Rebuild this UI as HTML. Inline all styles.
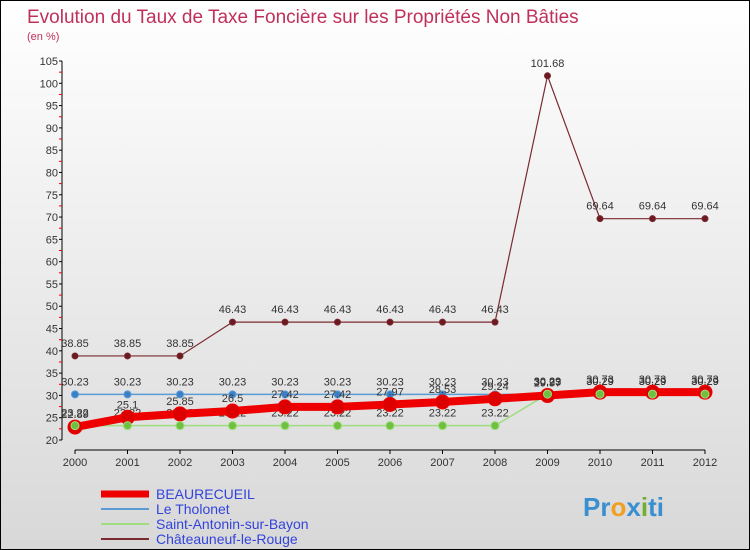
<!DOCTYPE html>
<html><head><meta charset="utf-8"><style>
body{margin:0}
#c{width:748px;height:548px;border:1px solid #000;background:linear-gradient(#fff,#d8d8d8);position:relative;font-family:"Liberation Sans",sans-serif;overflow:hidden}
</style></head><body>
<div id="c">
<svg id="s" width="748" height="548" style="position:absolute;left:0;top:0">
<text x="26" y="22" font-size="19" fill="#c0305a">Evolution du Taux de Taxe Foncière sur les Propriétés Non Bâties</text>
<text x="26" y="39" font-size="11" fill="#c0305a">(en %)</text>
<g id="axes"></g><g id="series"></g><g id="legend"></g>
<text x="582" y="515" font-size="26" font-weight="bold" fill="#3a8fd0">Pr<tspan fill="#f0a020">o</tspan>x<tspan fill="#70b030">i</tspan>ti</text>
</svg></div>
<script>
const years=[2000,2001,2002,2003,2004,2005,2006,2007,2008,2009,2010,2011,2012];
const beaurecueil=[22.89,25.1,25.85,26.5,27.42,27.42,27.97,28.53,29.24,29.97,30.73,30.73,30.73];
const tholonet=[30.23,30.23,30.23,30.23,30.23,30.23,30.23,30.23,30.23,30.23,30.29,30.29,30.29];
const antonin=[23.22,23.22,23.22,23.22,23.22,23.22,23.22,23.22,23.22,30.29,30.29,30.29,30.29];
const chateauneuf=[38.85,38.85,38.85,46.43,46.43,46.43,46.43,46.43,46.43,101.68,69.64,69.64,69.64];
const yTicks=[20,25,30,35,40,45,50,55,60,65,70,75,80,85,90,95,100,105];
const NS="http://www.w3.org/2000/svg";
const X=i=>74+i*52.5, Y=v=>439-(v-20)*(379/85);
function mk(t,a,p){const e=document.createElementNS(NS,t);for(const k in a)e.setAttribute(k,a[k]);p.appendChild(e);return e;}
const ax=document.getElementById('axes'),sg=document.getElementById('series'),lg=document.getElementById('legend');
const yl=mk('line',{x1:61,y1:Y(105),x2:61,y2:Y(20),stroke:'#000'},ax);


const xl=mk('line',{x1:74,y1:449,x2:X(12),y2:449,stroke:'#000'},ax);


yTicks.forEach(v=>{mk('line',{x1:58,y1:Y(v),x2:61,y2:Y(v),stroke:'#000'},ax);
 if(v<105)mk('line',{x1:58,y1:Y(v+2.5),x2:61,y2:Y(v+2.5),stroke:'#e00'},ax);
 const t=mk('text',{x:57,y:Y(v)+4,'font-size':11,fill:'#333','text-anchor':'end'},ax);t.textContent=v;
 
 });
years.forEach((y,i)=>{mk('line',{x1:X(i),y1:449,x2:X(i),y2:453,stroke:'#000'},ax);
 const t=mk('text',{x:X(i),y:465,'font-size':11,fill:'#333','text-anchor':'middle'},ax);t.textContent=y;
 
 });
function series(d,col,w,r,dot,name,lblOff){
 const g=mk('g',{},sg);
 
 
 mk('polyline',{points:d.map((v,i)=>X(i)+','+Y(v)).join(' '),fill:'none',stroke:col,'stroke-width':w},g);
 d.forEach((v,i)=>{const c=mk('circle',{cx:X(i),cy:Y(v),r:r,fill:dot,stroke:col},g);
  
  
  const t=mk('text',{x:X(i),y:Y(v)+lblOff,'font-size':11,fill:'#333','text-anchor':'middle'},g);t.textContent=v;
  
  });
}
series(chateauneuf,'#7a2a30',1.2,3,'#6a1a20','series-chateauneuf',-9);
series(tholonet,'#5b9bd5',1.5,3.5,'#3a80c8','series-tholonet',-9);
series(antonin,'#a0dc80',1.5,4,'#70c040','series-antonin',-9);
series(beaurecueil,'#ee0000',8,7,'#dd0000','series-beaurecueil',-9);
const og=mk('g',{},sg);


antonin.forEach((v,i)=>{const c=mk('circle',{cx:X(i),cy:Y(v),r:4,fill:'#70c040',stroke:'#a0dc80'},og);
 
 });
const names=[['BEAURECUEIL','#ee0000',7],['Le Tholonet','#5b9bd5',2],['Saint-Antonin-sur-Bayon','#a0dc80',2],['Châteauneuf-le-Rouge','#7a2a30',2]];
names.forEach((n,i)=>{const y=493+i*15;
 const l=mk('line',{x1:100,y1:y,x2:148,y2:y,stroke:n[1],'stroke-width':n[2]},lg);
 
 
 const t=mk('text',{x:155,y:y+5,'font-size':14,fill:'#3344dd'},lg);t.textContent=n[0];
 
 });
</script></body></html>
